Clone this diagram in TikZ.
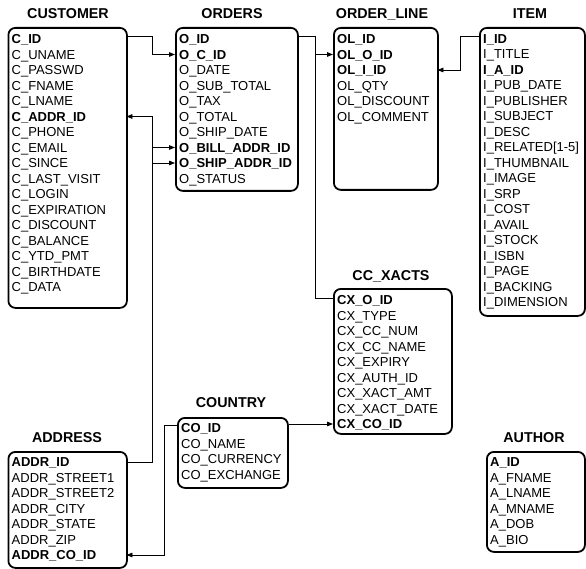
\documentclass[tikz,border=0pt]{standalone}
\usepackage{fontspec}
\setmainfont{Liberation Sans}
\usetikzlibrary{arrows.meta}
\begin{document}
\begin{tikzpicture}[x=1pt,y=-1pt,
  tbl/.style={draw, line width=1.8pt, rounded corners=7pt, inner sep=0pt, anchor=north west},
  row/.style={anchor=west, inner xsep=4pt, inner ysep=0pt, align=left,
    font=\fontsize{13}{15}\selectfont, text height=9.3pt, text depth=0pt},
  ttl/.style={inner sep=0pt, font=\fontsize{14.3}{16}\selectfont\bfseries, text height=10.2pt, text depth=0pt},
  conn/.style={draw, line width=0.8pt},
  tip/.style={-{Triangle[length=6pt,width=4.6pt]}}]
\useasboundingbox (0,0) rectangle (586,569);

% ---------- titles ----------
\node[ttl] (t-cust) at (68,13) {CUSTOMER};
\node[ttl] (t-ord) at (232,13) {ORDERS};
\node[ttl] (t-ol) at (382,13) {ORDER\_LINE};
\node[ttl] (t-item) at (530,13) {ITEM};
\node[ttl] (t-cc) at (391,275) {CC\_XACTS};
\node[ttl] (t-co) at (231,402) {COUNTRY};
\node[ttl] (t-addr) at (67,437) {ADDRESS};
\node[ttl] (t-auth) at (534,437) {AUTHOR};

% ---------- boxes ----------
\node[tbl, minimum width=118.5pt, minimum height=280pt] (custbox) at (7.5,27) {};
\node[tbl, minimum width=122pt, minimum height=163pt] (ordbox) at (175,27) {};
\node[tbl, minimum width=104pt, minimum height=162pt] (olbox) at (333,27) {};
\node[tbl, minimum width=105pt, minimum height=288pt] (itembox) at (479,27) {};
\node[tbl, minimum width=118pt, minimum height=145pt] (ccbox) at (333,288) {};
\node[tbl, minimum width=110pt, minimum height=70pt] (cobox) at (177,417) {};
\node[tbl, minimum width=118.5pt, minimum height=116pt] (addrbox) at (7.5,451) {};
\node[tbl, minimum width=98pt, minimum height=100pt] (authbox) at (486,451) {};

% ---------- rows ----------
\foreach \t [count=\i] in {\textbf{C\_ID}, C\_UNAME, C\_PASSWD, C\_FNAME, C\_LNAME,
  \textbf{C\_ADDR\_ID}, C\_PHONE, C\_EMAIL, C\_SINCE, C\_LAST\_VISIT, C\_LOGIN,
  C\_EXPIRATION, C\_DISCOUNT, C\_BALANCE, C\_YTD\_PMT, C\_BIRTHDATE, C\_DATA}
  \node[row, text width=110.5pt] (cust-\i) at (7.5,{39+15.5*(\i-1)}) {\t};

\foreach \t [count=\i] in {\textbf{O\_ID}, \textbf{O\_C\_ID}, O\_DATE, O\_SUB\_TOTAL,
  O\_TAX, O\_TOTAL, O\_SHIP\_DATE, \textbf{O\_BILL\_ADDR\_ID}, \textbf{O\_SHIP\_ADDR\_ID}, O\_STATUS}
  \node[row, text width=114pt] (ord-\i) at (175,{39+15.5*(\i-1)}) {\t};

\foreach \t [count=\i] in {\textbf{OL\_ID}, \textbf{OL\_O\_ID}, \textbf{OL\_I\_ID},
  OL\_QTY, OL\_DISCOUNT, OL\_COMMENT}
  \node[row, text width=96pt] (ol-\i) at (333,{39+15.5*(\i-1)}) {\t};

\foreach \t [count=\i] in {\textbf{I\_ID}, I\_TITLE, \textbf{I\_A\_ID}, I\_PUB\_DATE,
  I\_PUBLISHER, I\_SUBJECT, I\_DESC, {I\_RELATED[1-5]}, I\_THUMBNAIL, I\_IMAGE, I\_SRP,
  I\_COST, I\_AVAIL, I\_STOCK, I\_ISBN, I\_PAGE, I\_BACKING, I\_DIMENSION}
  \node[row, text width=97pt] (item-\i) at (479,{38.5+15.5*(\i-1)}) {\t};

\foreach \t [count=\i] in {\textbf{CX\_O\_ID}, CX\_TYPE, CX\_CC\_NUM, CX\_CC\_NAME,
  CX\_EXPIRY, CX\_AUTH\_ID, CX\_XACT\_AMT, CX\_XACT\_DATE, \textbf{CX\_CO\_ID}}
  \node[row, text width=110pt] (cc-\i) at (333,{300+15.5*(\i-1)}) {\t};

\foreach \t [count=\i] in {\textbf{CO\_ID}, CO\_NAME, CO\_CURRENCY, CO\_EXCHANGE}
  \node[row, text width=102pt] (co-\i) at (177,{428+15.5*(\i-1)}) {\t};

\foreach \t [count=\i] in {\textbf{ADDR\_ID}, ADDR\_STREET1, ADDR\_STREET2, ADDR\_CITY,
  ADDR\_STATE, ADDR\_ZIP, \textbf{ADDR\_CO\_ID}}
  \node[row, text width=110.5pt] (addr-\i) at (7.5,{462+15.5*(\i-1)}) {\t};

\foreach \t [count=\i] in {\textbf{A\_ID}, A\_FNAME, A\_LNAME, A\_MNAME, A\_DOB, A\_BIO}
  \node[row, text width=90pt] (auth-\i) at (486,{462+15.5*(\i-1)}) {\t};

% ---------- bus coordinates ----------
\coordinate (busA) at (152.5,0);
\coordinate (busB) at (315,0);
\coordinate (busC) at (460,0);
\coordinate (busD) at (164,0);

% ---------- connectors ----------
% CUSTOMER.C_ID -> ORDERS.O_C_ID
\draw[conn,tip] ([yshift=3pt]cust-1.east) -- ([yshift=3pt]cust-1.east -| busA)
  -- (ord-2.west -| busA) -- (ord-2.west);
% ADDRESS.ADDR_ID -> CUSTOMER.C_ADDR_ID, ORDERS bill / ship
\draw[conn,tip] (addr-1.east) -- (addr-1.east -| busA) -- (cust-6.east -| busA) -- (cust-6.east);
\draw[conn,tip] (ord-8.west -| busA) -- (ord-8.west);
\draw[conn,tip] (ord-9.west -| busA) -- (ord-9.west);
% ORDERS.O_ID -> ORDER_LINE.OL_O_ID, CC_XACTS.CX_O_ID
\draw[conn] ([yshift=3pt]ord-1.east) -- ([yshift=3pt]ord-1.east -| busB)
  -- ([yshift=2pt]cc-1.west -| busB) -- ([yshift=2pt]cc-1.west);
\draw[conn,tip] (ol-2.west -| busB) -- (ol-2.west);
% ITEM.I_ID -> ORDER_LINE.OL_I_ID
\draw[conn,tip] ([yshift=2.5pt]item-1.west) -- ([yshift=2.5pt]item-1.west -| busC)
  -- (ol-3.east -| busC) -- (ol-3.east);
% COUNTRY.CO_ID -> CC_XACTS.CX_CO_ID
\draw[conn,tip] (cc-9.west -| cobox.east) -- (cc-9.west);
% COUNTRY.CO_ID -> ADDRESS.ADDR_CO_ID
\draw[conn,tip] ([yshift=2.5pt]co-1.west) -- ([yshift=2.5pt]co-1.west -| busD)
  -- (addr-7.east -| busD) -- (addr-7.east);
\end{tikzpicture}
\end{document}
